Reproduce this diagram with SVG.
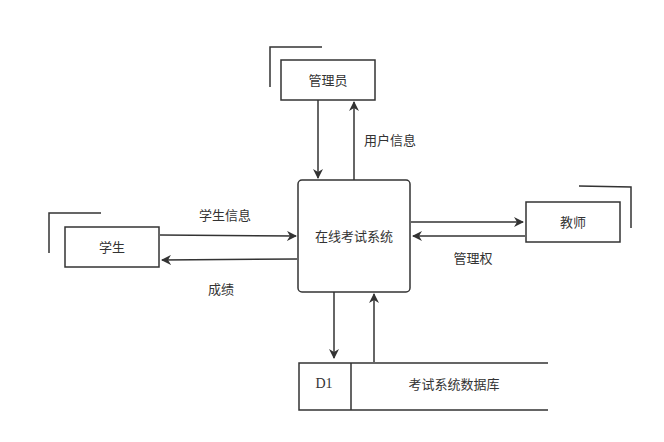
<svg xmlns="http://www.w3.org/2000/svg" width="664" height="442" viewBox="0 0 664 442">
<defs>
<marker id="a" markerWidth="10" markerHeight="10" refX="9" refY="5" orient="auto" markerUnits="userSpaceOnUse"><path d="M0,0 L10,5 L0,10 L3,5 Z" fill="#333"/></marker>
<style>
.b{fill:#fff;stroke:#333;stroke-width:1.5}
.l{fill:none;stroke:#333;stroke-width:1.5}
.c{stroke:#333;stroke-width:1.5;fill:none;marker-end:url(#a)}
text{font-family:"Liberation Sans","Noto Sans CJK SC",sans-serif;font-size:13px;fill:#333;text-anchor:middle;dominant-baseline:central}
</style>
</defs>
<rect width="664" height="442" fill="#fff"/>
<g id="admin"><path class="l" d="M270,87 V47 H322"/><rect class="b" x="281" y="60" width="94" height="40"/><text x="328" y="80">管理员</text></g>
<g id="student"><path class="l" d="M49,253 V213 H101"/><rect class="b" x="65" y="227" width="94" height="40"/><text x="112" y="247">学生</text></g>
<g id="teacher"><path class="l" d="M579,186 L631,187 V228"/><rect class="b" x="526" y="202" width="94" height="40"/><text x="573" y="222">教师</text></g>
<g id="system"><rect class="b" x="298" y="180" width="112" height="112" rx="4"/><text x="354" y="236">在线考试系统</text></g>
<g id="db"><path class="l" d="M548,363 H299 V410 H548 M351,363 V410"/><text x="324" y="383" style="font-family:'Liberation Serif',serif;font-size:14px">D1</text><text x="454" y="384">考试系统数据库</text></g>
<g id="connectors">
<path class="c" d="M318,100 V178"/>
<path class="c" d="M354,180 V102"/>
<path class="c" d="M160,235 L296,236"/>
<path class="c" d="M297,259 L162,260"/>
<path class="c" d="M411,222 H523"/>
<path class="c" d="M525,236 L413,236"/>
<path class="c" d="M334,292 V358"/>
<path class="c" d="M374,362 V294"/>
<text x="390" y="140">用户信息</text>
<text x="225" y="215">学生信息</text>
<text x="221" y="289">成绩</text>
<text x="473" y="258">管理权</text>
</g>
</svg>
